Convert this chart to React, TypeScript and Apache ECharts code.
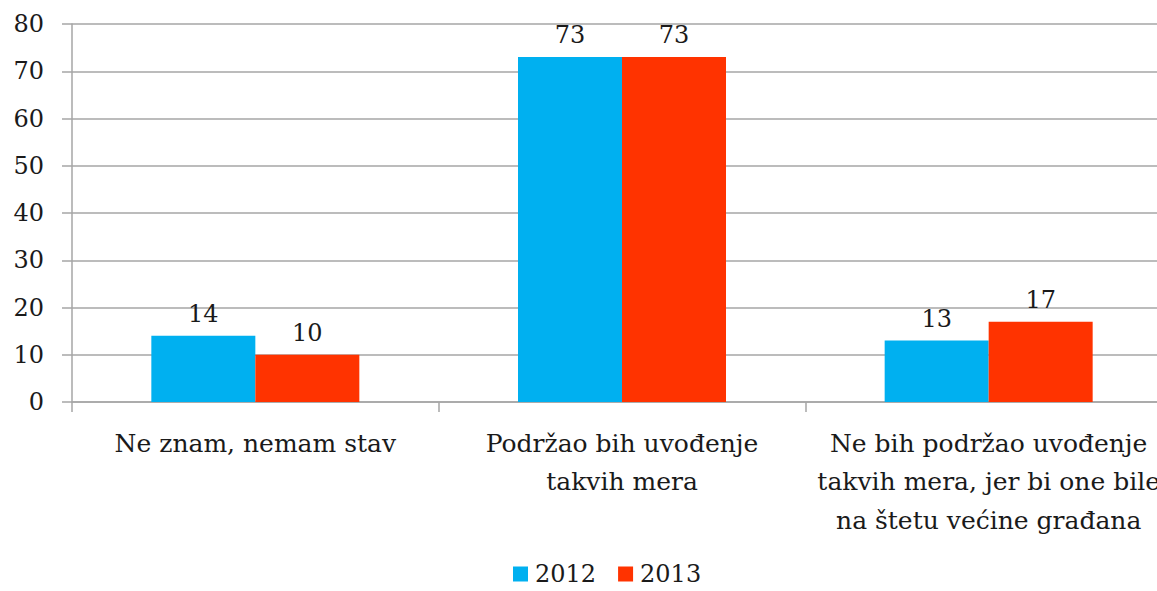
import React, { useEffect, useRef } from "react";
import * as echarts from "echarts";

const categories = [
  "Ne znam, nemam stav",
  "Podržao bih uvođenje\ntakvih mera",
  "Ne bih podržao uvođenje\ntakvih mera, jer bi one bile\nna štetu većine građana",
];
const series2012 = [14, 73, 13];
const series2013 = [10, 73, 17];
const seriesNames = ["2012", "2013"];
const yTicks = { min: 0, max: 80, interval: 10 };

const FONT = "DejaVu Serif";
const TEXT = "#1a1a1a";

export default function App() {
  const ref = useRef<HTMLDivElement>(null);
  useEffect(() => {
    if (!ref.current) return;
    const chart = echarts.init(ref.current, null, { renderer: "svg" });
    const label = {
      show: true,
      position: "top",
      distance: 10,
      color: TEXT,
      fontFamily: FONT,
      fontSize: 24,
    };
    chart.setOption({
      animation: false,
      textStyle: { fontFamily: FONT },
      legend: {
        bottom: 0,
        left: 508,
        itemWidth: 15,
        itemHeight: 15,
        itemGap: 22,
        icon: "rect",
        textStyle: { fontFamily: FONT, fontSize: 24, color: TEXT, padding: [0, 0, 0, 2] },
        data: seriesNames,
      },
      grid: { left: 72, right: 8, top: 24, bottom: 189, containLabel: false },
      xAxis: {
        type: "category",
        data: categories,
        axisLine: { lineStyle: { color: "#a6a6a6", width: 1.5 } },
        axisTick: { show: true, length: 10, lineStyle: { color: "#a6a6a6", width: 1.5 } },
        axisLabel: {
          interval: 0,
          margin: 22,
          color: TEXT,
          fontFamily: FONT,
          fontSize: 25,
          lineHeight: 38.5,
        },
      },
      yAxis: {
        type: "value",
        min: yTicks.min,
        max: yTicks.max,
        interval: yTicks.interval,
        axisLine: { show: true, lineStyle: { color: "#a6a6a6", width: 1.5 } },
        axisTick: { show: true, length: 10, lineStyle: { color: "#a6a6a6", width: 1.5 } },
        splitLine: { show: true, lineStyle: { color: "#a6a6a6", width: 1.5 } },
        axisLabel: { margin: 28, color: TEXT, fontFamily: FONT, fontSize: 24 },
      },
      series: [
        {
          name: seriesNames[0],
          type: "bar",
          data: series2012,
          barWidth: 104,
          barGap: "0%",
          itemStyle: { color: "#00B0F0" },
          label,
        },
        {
          name: seriesNames[1],
          type: "bar",
          data: series2013,
          barWidth: 104,
          barGap: "0%",
          itemStyle: { color: "#FF3300" },
          label,
        },
      ],
    });
    return () => chart.dispose();
  }, []);
  return (
    <div style={{ position: "absolute", left: 0, top: 0, width: 1157, height: 591, overflow: "hidden" }}>
      <div ref={ref} style={{ width: 1180, height: 591 }} />
    </div>
  );
}
